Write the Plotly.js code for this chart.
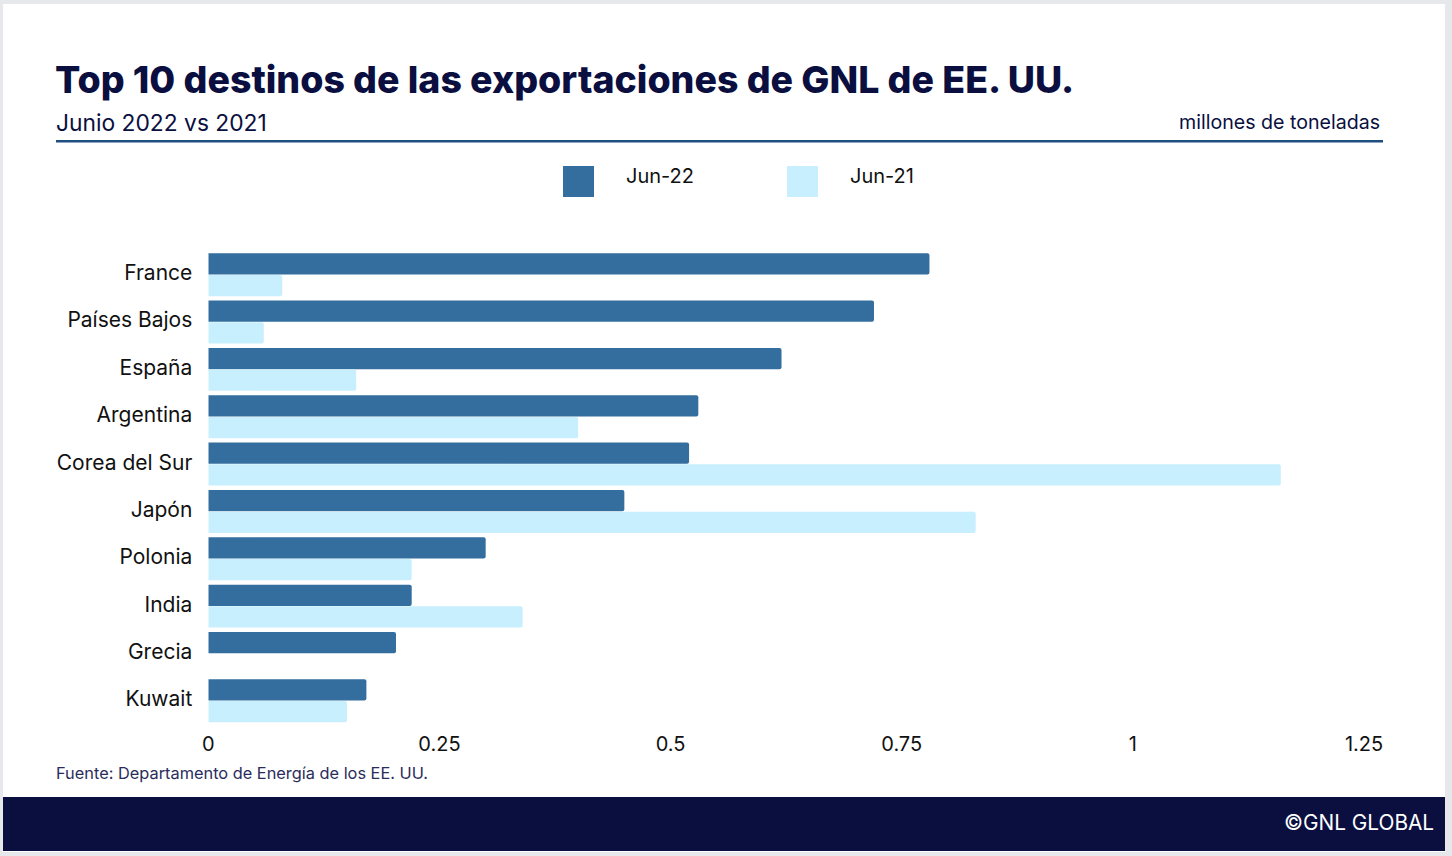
<!DOCTYPE html>
<html><head><meta charset="utf-8">
<script src="https://cdn.plot.ly/plotly-3.0.1.min.js"></script>
<style>html,body{margin:0;padding:0;background:#e6e8ec;overflow:hidden}#c{width:1452px;height:856px}</style>
</head><body><div id="c"></div>
<script>
const categories = ["France","Países Bajos","España","Argentina","Corea del Sur","Japón","Polonia","India","Grecia","Kuwait"];
const jun22 = [0.78,0.72,0.62,0.53,0.52,0.45,0.30,0.22,0.203,0.171];
const jun21 = [0.08,0.06,0.16,0.40,1.16,0.83,0.22,0.34,0,0.15];
const xTicks = [0,0.25,0.5,0.75,1,1.25];
const xLabels = ["0","0.25","0.5","0.75","1","1.25"];
const seriesNames = ["Jun-22","Jun-21"];
const seriesColors = ["#346e9f","#c8effe"];
const NAVY = "#0a0f3f", W = 1452, H = 856, FONT = "Inter, sans-serif";
const px = v => v / W, py = v => 1 - v / H;
const rect = (x0,y0,x1,y1,fill,layer) => ({type:"rect",xref:"paper",yref:"paper",x0:px(x0),x1:px(x1),y0:py(y0),y1:py(y1),fillcolor:fill,line:{width:0},layer:layer||"below"});
const note = (x,y,text,size,color,anchor,weight) => ({xref:"paper",yref:"paper",x:px(x),y:py(y),text,showarrow:false,xanchor:anchor||"left",yanchor:"middle",font:{family:FONT,size,color,weight:weight||400}});
const traces = [jun22,jun21].map((vals,i)=>({type:"bar",orientation:"h",name:seriesNames[i],y:categories,x:vals,marker:{color:seriesColors[i],cornerradius:2,line:{width:0}},hoverinfo:"x+y"}));
const layout = {
  width:W,height:H,margin:{l:0,r:0,t:0,b:0},paper_bgcolor:"rgba(0,0,0,0)",plot_bgcolor:"rgba(0,0,0,0)",
  barmode:"group",bargap:0.083,bargroupgap:0.02,showlegend:false,font:{family:FONT},
  title:{text:"Top 10 destinos de las exportaciones de GNL de EE. UU.",xref:"paper",yref:"paper",x:px(55),xanchor:"left",y:py(80),yanchor:"middle",font:{family:FONT,size:37.5,color:NAVY,weight:800}},
  xaxis:{domain:[px(208.3),px(1364)],range:[0,1.25],tickmode:"array",tickvals:xTicks,ticktext:xLabels,showgrid:false,zeroline:false,showline:false,ticks:"",anchor:"y",tickfont:{family:FONT,size:20,color:"#111"},ticklabelstandoff:5},
  yaxis:{domain:[py(724.5),py(251)],autorange:"reversed",tickmode:"array",tickvals:categories.map((c,i)=>i-0.04),ticktext:categories,showgrid:false,zeroline:false,showline:false,ticks:"",anchor:"x",tickfont:{family:FONT,size:21,color:"#111"},ticklabelstandoff:15},
  shapes:[
    rect(3,4,1445,852,"#ffffff"),
    rect(3,797,1445,851,NAVY),
    rect(56,140,1383,142.5,"#1f4f80"),
    rect(563,166,594,197,seriesColors[0]),
    rect(787,166,818,197,seriesColors[1])
  ],
  annotations:[
    note(54,122,"Junio 2022 vs 2021",22.8,NAVY),
    note(1382,122,"millones de toneladas",19.6,NAVY,"right"),
    note(624,176,seriesNames[0],20,"#111"),
    note(848,176,seriesNames[1],20,"#111"),
    note(54,773,"Fuente: Departamento de Energía de los EE. UU.",16.35,"#2a2d5c"),
    note(1436,822,"©GNL GLOBAL",20.8,"#ffffff","right")
  ]
};
Plotly.newPlot("c",traces,layout,{displayModeBar:false,responsive:false});
</script></body></html>
